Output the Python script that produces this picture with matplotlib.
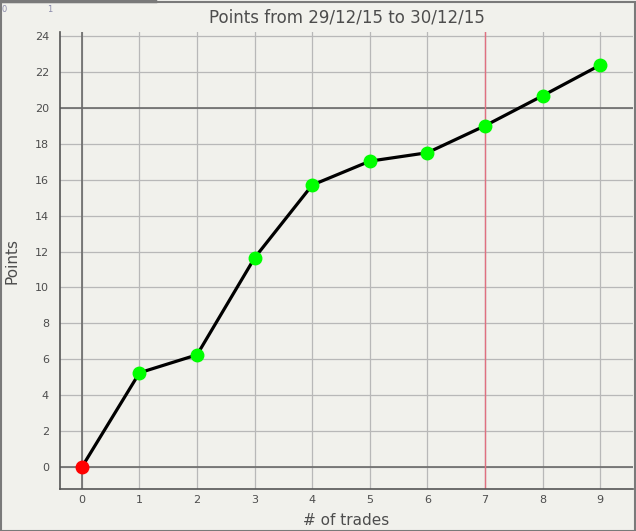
import matplotlib
matplotlib.use("Agg")
import matplotlib.pyplot as plt
from matplotlib.patches import Rectangle
from matplotlib.lines import Line2D

trades = [0, 1, 2, 3, 4, 5, 6, 7, 8, 9]
points = [0.0, 5.25, 6.25, 11.65, 15.7, 17.03, 17.5, 19.0, 20.67, 22.38]
x_ticks = [0, 1, 2, 3, 4, 5, 6, 7, 8, 9]
y_ticks = [0, 2, 4, 6, 8, 10, 12, 14, 16, 18, 20, 22, 24]
title = "Points from 29/12/15 to 30/12/15"
xlabel = "# of trades"
ylabel = "Points"

bg = "#f1f1ec"
txt = "#4d4d4d"
W, H = 636, 531
fig = plt.figure(figsize=(W / 100, H / 100), dpi=100, facecolor=bg)
ax = fig.add_axes([60 / W, 1 - 489 / H, (633 - 60) / W, (489 - 32) / H])
ax.set_facecolor(bg)
ax.set_xlim(-0.38, 9.57)
ax.set_ylim(-1.22, 24.22)

ax.set_xticks(x_ticks)
ax.set_yticks(y_ticks)
ax.grid(True, color="#b8b8b8", linewidth=0.9)
ax.set_axisbelow(True)
ax.axhline(0, color="#6a6a6a", linewidth=1.2, zorder=1)
ax.axhline(20, color="#6a6a6a", linewidth=1.2, zorder=1)
ax.axvline(0, color="#6a6a6a", linewidth=1.2, zorder=1)
ax.axvline(7, color="#e07080", linewidth=1.0, zorder=1)

ax.plot(trades, points, color="black", linewidth=2.3, zorder=3)
ax.plot(trades[1:], points[1:], "o", color="#00ff00", markersize=9, zorder=4)
ax.plot(trades[:1], points[:1], "o", color="#ff0000", markersize=9, zorder=4)

for s in ["top", "right"]:
    ax.spines[s].set_visible(False)
for s in ["left", "bottom"]:
    ax.spines[s].set_color("#555555")
    ax.spines[s].set_linewidth(1.2)
ax.tick_params(length=0, labelsize=8, labelcolor=txt)
ax.tick_params(axis="x", pad=4)
ax.tick_params(axis="y", pad=8)

ax.set_title(title, fontsize=12, color=txt, pad=7)
ax.set_xlabel(xlabel, fontsize=11, color=txt, labelpad=6)
ax.set_ylabel(ylabel, fontsize=11, color=txt, labelpad=11)

# figure border
fig.patches.append(Rectangle((0.5 / W, 0.5 / H), 1 - 2 / W, 1 - 2 / H, transform=fig.transFigure,
                             fill=False, edgecolor="#7a7a7a", linewidth=1.5))
fig.lines.append(Line2D([0, 155 / W], [1 - 1 / H, 1 - 1 / H], transform=fig.transFigure,
                        color="#7a7a7a", linewidth=2.5))
fig.text(4 / W, 1 - 9 / H, "0", fontsize=6, color="#8a8aaa", ha="center", va="center")
fig.text(50 / W, 1 - 9 / H, "1", fontsize=6, color="#8a8aaa", ha="center", va="center")

fig.savefig("out.png", dpi=100, facecolor=bg)
